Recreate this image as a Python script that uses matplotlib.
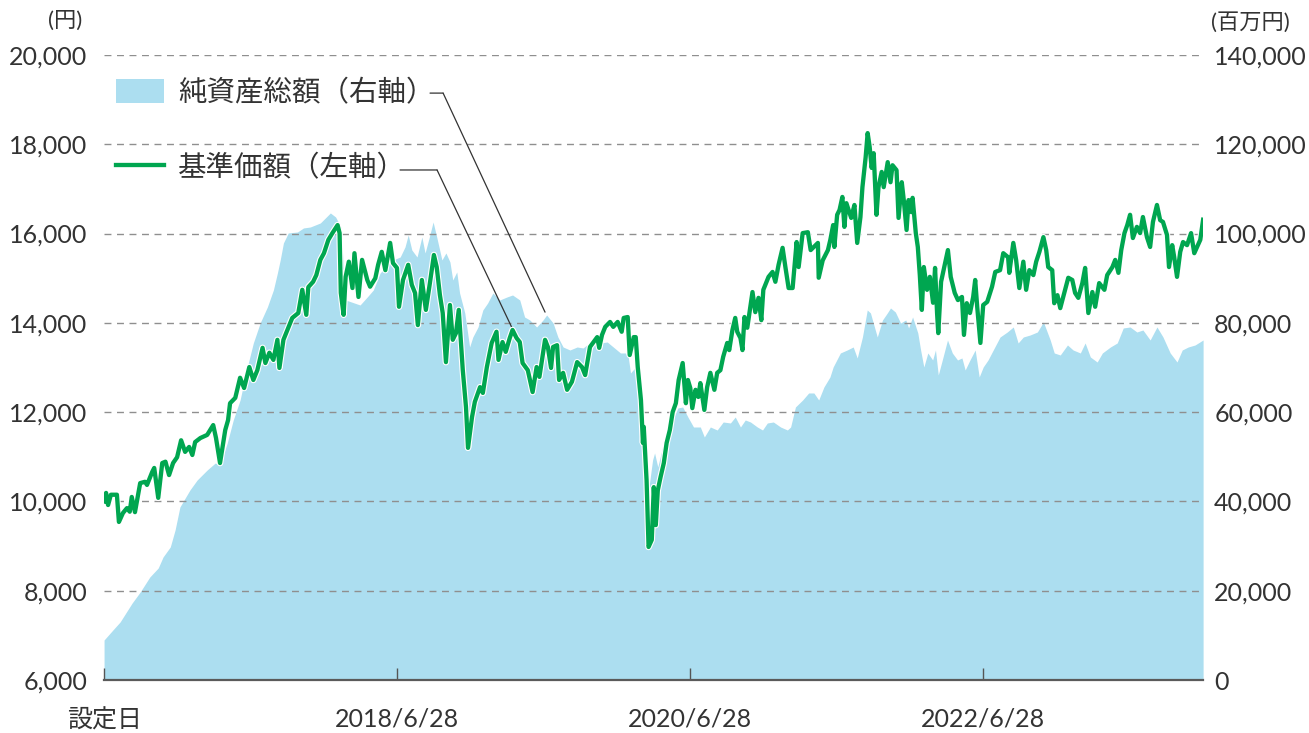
import pandas as pd
import matplotlib
matplotlib.use('Agg')
import matplotlib.pyplot as plt
import matplotlib.patheffects as pe
import matplotlib.dates as mdates
from matplotlib.patches import Patch, ConnectionPatch
from matplotlib.lines import Line2D
from matplotlib.ticker import FuncFormatter

plt.rcParams['font.family'] = ['Lato', 'Noto Sans CJK JP', 'DejaVu Sans']

# 基準価額（左軸, 円）
nav_dates = [
    '2016-06-28', '2016-07-03', '2016-07-08', '2016-07-15', '2016-07-30', '2016-08-04', '2016-08-14',
    '2016-08-24', '2016-08-31', '2016-09-05', '2016-09-13', '2016-09-26', '2016-10-08', '2016-10-13',
    '2016-10-26', '2016-10-31', '2016-11-10', '2016-11-20', '2016-11-28', '2016-12-07', '2016-12-17',
    '2016-12-27', '2017-01-06', '2017-01-16', '2017-01-26', '2017-02-03', '2017-02-10', '2017-02-23',
    '2017-03-12', '2017-03-27', '2017-04-03', '2017-04-13', '2017-04-26', '2017-05-03', '2017-05-08',
    '2017-05-21', '2017-06-02', '2017-06-12', '2017-06-25', '2017-07-05', '2017-07-15', '2017-07-28',
    '2017-08-04', '2017-08-14', '2017-08-24', '2017-09-03', '2017-09-08', '2017-09-18', '2017-09-28',
    '2017-10-10', '2017-10-25', '2017-11-04', '2017-11-14', '2017-11-19', '2017-12-01', '2017-12-09',
    '2017-12-19', '2017-12-28', '2018-01-08', '2018-01-18', '2018-01-26', '2018-01-31', '2018-02-05',
    '2018-02-08', '2018-02-15', '2018-02-20', '2018-02-28', '2018-03-09', '2018-03-14', '2018-03-24',
    '2018-04-02', '2018-04-15', '2018-04-22', '2018-05-05', '2018-05-12', '2018-05-21', '2018-05-30',
    '2018-06-11', '2018-06-18', '2018-06-28', '2018-07-03', '2018-07-13', '2018-07-26', '2018-08-04',
    '2018-08-12', '2018-08-19', '2018-08-29', '2018-09-08', '2018-09-18', '2018-09-28', '2018-10-05',
    '2018-10-13', '2018-10-20', '2018-10-28', '2018-11-07', '2018-11-14', '2018-11-22', '2018-11-29',
    '2018-12-09', '2018-12-17', '2018-12-22', '2019-01-01', '2019-01-08', '2019-01-21', '2019-01-28',
    '2019-02-07', '2019-02-19', '2019-03-03', '2019-03-08', '2019-03-18', '2019-03-26', '2019-04-05',
    '2019-04-12', '2019-04-22', '2019-04-30', '2019-05-07', '2019-05-20', '2019-06-01', '2019-06-11',
    '2019-06-18', '2019-07-02', '2019-07-09', '2019-07-17', '2019-07-22', '2019-08-01', '2019-08-06',
    '2019-08-16', '2019-08-26', '2019-09-07', '2019-09-20', '2019-10-02', '2019-10-10', '2019-10-22',
    '2019-11-09', '2019-11-14', '2019-11-21', '2019-11-29', '2019-12-11', '2019-12-19', '2019-12-30',
    '2020-01-09', '2020-01-14', '2020-01-24', '2020-01-29', '2020-02-08', '2020-02-13', '2020-02-18',
    '2020-02-26', '2020-03-02', '2020-03-04', '2020-03-11', '2020-03-16', '2020-03-24', '2020-03-29',
    '2020-04-03', '2020-04-08', '2020-04-15', '2020-04-23', '2020-04-30', '2020-05-08', '2020-05-15',
    '2020-05-23', '2020-05-30', '2020-06-09', '2020-06-17', '2020-06-22', '2020-06-28', '2020-07-03',
    '2020-07-11', '2020-07-18', '2020-07-23', '2020-08-02', '2020-08-09', '2020-08-17', '2020-08-27',
    '2020-09-03', '2020-09-11', '2020-09-18', '2020-09-28', '2020-10-03', '2020-10-11', '2020-10-18',
    '2020-10-23', '2020-10-31', '2020-11-05', '2020-11-10', '2020-11-17', '2020-11-30', '2020-12-07',
    '2020-12-15', '2020-12-22', '2020-12-27', '2021-01-09', '2021-01-19', '2021-01-26', '2021-02-03',
    '2021-02-13', '2021-02-20', '2021-02-28', '2021-03-10', '2021-03-20', '2021-03-25', '2021-04-04',
    '2021-04-17', '2021-04-24', '2021-05-02', '2021-05-12', '2021-05-14', '2021-05-24', '2021-06-06',
    '2021-06-12', '2021-06-19', '2021-06-22', '2021-06-29', '2021-07-05', '2021-07-12', '2021-07-17',
    '2021-07-22', '2021-08-03', '2021-08-11', '2021-08-18', '2021-08-26', '2021-08-31', '2021-09-08',
    '2021-09-13', '2021-09-18', '2021-09-23', '2021-09-28', '2021-10-05', '2021-10-10', '2021-10-18',
    '2021-10-23', '2021-11-02', '2021-11-09', '2021-11-14', '2021-11-24', '2021-11-29', '2021-12-07',
    '2021-12-12', '2021-12-19', '2021-12-24', '2021-12-31', '2022-01-03', '2022-01-11', '2022-01-16',
    '2022-01-21', '2022-01-26', '2022-01-31', '2022-02-08', '2022-02-15', '2022-02-23', '2022-02-28',
    '2022-03-05', '2022-03-08', '2022-03-15', '2022-03-25', '2022-04-01', '2022-04-08', '2022-04-18',
    '2022-04-26', '2022-05-06', '2022-05-11', '2022-05-18', '2022-05-26', '2022-06-03', '2022-06-08',
    '2022-06-13', '2022-06-21', '2022-06-28', '2022-07-08', '2022-07-20', '2022-07-28', '2022-08-09',
    '2022-08-17', '2022-08-29', '2022-09-01', '2022-09-11', '2022-09-18', '2022-09-26', '2022-10-06',
    '2022-10-13', '2022-10-21', '2022-10-31', '2022-11-07', '2022-11-15', '2022-11-25', '2022-12-02',
    '2022-12-07', '2022-12-17', '2022-12-22', '2022-12-30', '2023-01-06', '2023-01-16', '2023-01-26',
    '2023-02-05', '2023-02-12', '2023-02-20', '2023-03-02', '2023-03-09', '2023-03-17', '2023-03-27',
    '2023-04-03', '2023-04-13', '2023-04-26', '2023-05-03', '2023-05-16', '2023-05-23', '2023-05-31',
    '2023-06-07', '2023-06-15', '2023-06-22', '2023-06-29', '2023-07-06', '2023-07-16', '2023-07-24',
    '2023-07-31', '2023-08-10', '2023-08-18', '2023-08-25', '2023-09-04', '2023-09-12', '2023-09-19',
    '2023-09-29', '2023-10-04', '2023-10-12', '2023-10-17', '2023-10-24', '2023-11-01', '2023-11-08',
    '2023-11-18', '2023-11-28', '2023-12-06', '2023-12-13', '2023-12-21', '2023-12-28',
]
nav_values = [
    10000, 10190, 9920, 10150, 10150, 9540, 9740,
    9850, 9770, 10100, 9760, 10410, 10440, 10370,
    10660, 10750, 10080, 10860, 10890, 10590, 10860,
    10990, 11370, 11110, 11220, 11040, 11330, 11420,
    11490, 11710, 11420, 10860, 11600, 11820, 12200,
    12320, 12770, 12540, 13010, 12720, 12940, 13440,
    13100, 13330, 13170, 13620, 12990, 13620, 13840,
    14110, 14220, 14740, 14180, 14800, 14920, 15070,
    15410, 15560, 15860, 16010, 16120, 16190, 16010,
    14670, 14180, 15030, 15370, 14780, 15560, 14580,
    15410, 14960, 14810, 15000, 15300, 15590, 15180,
    15790, 15340, 15230, 14360, 14960, 15300, 14850,
    14670, 13950, 14960, 14290, 14890, 15520, 15250,
    14620, 14220, 13120, 14400, 13620, 13770, 14290,
    12940, 12110, 11200, 11890, 12230, 12560, 12430,
    13010, 13550, 13800, 13170, 13570, 13350, 13660,
    13840, 13660, 13570, 13100, 12940, 12450, 13010,
    12790, 13620, 13460, 12990, 13460, 13500, 12720,
    12880, 12500, 12680, 13120, 13010, 12830, 13460,
    13680, 13440, 13730, 13910, 14020, 13910, 14020,
    13800, 14110, 14130, 13280, 13680, 13680, 13010,
    12270, 11310, 11670, 10480, 8980, 9140, 10320,
    9470, 10250, 10550, 10860, 11310, 11600, 12000,
    12200, 12720, 13100, 12200, 12720, 12540, 12090,
    12500, 12340, 12650, 12050, 12560, 12880, 12500,
    12880, 12940, 13240, 13550, 13390, 13840, 14110,
    13800, 13660, 13390, 14130, 13890, 14690, 14240,
    14560, 14060, 14740, 15030, 15140, 14920, 15300,
    15680, 15250, 14780, 14780, 15810, 15250, 16010,
    16030, 15630, 15700, 15790, 15010, 15400, 15630,
    15860, 16190, 15700, 16420, 16530, 16820, 16150,
    16680, 16350, 16640, 15790, 16370, 17040, 17710,
    18250, 17940, 17470, 17800, 16420, 17040, 17380,
    17040, 17600, 17150, 17530, 17420, 16350, 17150,
    16750, 16080, 16750, 16480, 16800, 16010, 15700,
    15070, 14290, 15250, 14740, 15030, 14450, 15230,
    14220, 13770, 14920, 15340, 15630, 15030, 14670,
    14510, 14580, 13730, 14440, 14220, 14580, 14960,
    14360, 13550, 14400, 14470, 14810, 15140, 15180,
    15560, 15470, 15120, 15790, 15410, 14780, 15370,
    14740, 15180, 15070, 15370, 15590, 15920, 15630,
    15250, 15180, 14440, 14620, 14330, 14670, 15010,
    14960, 14670, 14560, 14890, 15230, 14220, 14690,
    14360, 14890, 14740, 15070, 15250, 15410, 15120,
    15630, 16010, 16190, 16420, 15900, 16150, 16010,
    16370, 15920, 15700, 16260, 16640, 16300, 16260,
    15970, 15250, 15740, 15470, 15030, 15590, 15810,
    15740, 16010, 15560, 15700, 15860, 16310,
]

# 純資産総額（右軸, 百万円）
aum_dates = [
    '2016-06-28', '2016-07-20', '2016-08-07', '2016-09-06', '2016-09-26', '2016-10-20', '2016-11-10',
    '2016-11-22', '2016-12-10', '2016-12-22', '2017-01-03', '2017-01-28', '2017-02-15', '2017-03-12',
    '2017-04-01', '2017-04-13', '2017-05-01', '2017-05-16', '2017-06-02', '2017-06-20', '2017-07-05',
    '2017-07-22', '2017-08-09', '2017-08-24', '2017-09-03', '2017-09-10', '2017-09-18', '2017-09-30',
    '2017-10-23', '2017-11-07', '2017-11-24', '2017-12-19', '2018-01-13', '2018-01-26', '2018-02-08',
    '2018-02-20', '2018-03-28', '2018-04-15', '2018-04-30', '2018-05-17', '2018-06-04', '2018-06-18',
    '2018-07-06', '2018-07-18', '2018-07-26', '2018-08-04', '2018-08-17', '2018-08-29', '2018-09-06',
    '2018-09-16', '2018-09-26', '2018-10-05', '2018-10-18', '2018-10-28', '2018-11-07', '2018-11-14',
    '2018-11-24', '2018-12-01', '2018-12-14', '2018-12-26', '2019-01-03', '2019-01-16', '2019-01-28',
    '2019-02-09', '2019-02-22', '2019-03-11', '2019-03-29', '2019-04-12', '2019-04-30', '2019-05-12',
    '2019-05-25', '2019-06-11', '2019-06-27', '2019-07-06', '2019-07-22', '2019-08-03', '2019-08-16',
    '2019-09-02', '2019-09-20', '2019-10-05', '2019-10-20', '2019-11-16', '2019-12-04', '2019-12-19',
    '2020-01-06', '2020-01-24', '2020-01-31', '2020-02-13', '2020-02-21', '2020-03-02', '2020-03-09',
    '2020-03-16', '2020-03-26', '2020-03-31', '2020-04-08', '2020-04-20', '2020-05-03', '2020-05-15',
    '2020-05-28', '2020-06-09', '2020-06-22', '2020-07-06', '2020-07-23', '2020-08-02', '2020-08-17',
    '2020-09-03', '2020-09-18', '2020-10-06', '2020-10-18', '2020-10-31', '2020-11-12', '2020-11-25',
    '2020-12-12', '2020-12-25', '2021-01-06', '2021-01-21', '2021-02-08', '2021-02-25', '2021-03-05',
    '2021-03-17', '2021-04-04', '2021-04-19', '2021-05-02', '2021-05-14', '2021-05-27', '2021-06-11',
    '2021-06-19', '2021-07-07', '2021-07-24', '2021-08-08', '2021-08-18', '2021-08-31', '2021-09-12',
    '2021-09-20', '2021-09-27', '2021-10-07', '2021-10-20', '2021-11-01', '2021-11-09', '2021-11-21',
    '2021-12-04', '2021-12-17', '2021-12-24', '2022-01-03', '2022-01-16', '2022-01-23', '2022-01-31',
    '2022-02-10', '2022-02-22', '2022-03-01', '2022-03-08', '2022-03-18', '2022-03-31', '2022-04-12',
    '2022-04-25', '2022-05-06', '2022-05-14', '2022-05-26', '2022-06-08', '2022-06-18', '2022-06-28',
    '2022-07-10', '2022-07-23', '2022-08-09', '2022-08-27', '2022-09-11', '2022-09-23', '2022-10-06',
    '2022-10-23', '2022-11-10', '2022-11-25', '2022-12-12', '2022-12-22', '2023-01-06', '2023-01-24',
    '2023-02-07', '2023-02-25', '2023-03-09', '2023-03-22', '2023-04-08', '2023-04-21', '2023-05-11',
    '2023-05-28', '2023-06-12', '2023-06-29', '2023-07-16', '2023-07-31', '2023-08-18', '2023-09-04',
    '2023-09-19', '2023-10-07', '2023-10-24', '2023-11-06', '2023-11-21', '2023-12-08', '2023-12-28',
]
aum_values = [
    8960, 11200, 13000, 17250, 19700, 23070, 25090,
    27550, 29800, 33600, 38750, 42560, 44800, 47040,
    48600, 48160, 53090, 58240, 62720, 70100, 75490,
    79970, 83550, 87360, 91170, 94080, 97890, 100130,
    100350, 101250, 101470, 102370, 104610, 103710, 101470,
    85120, 84000, 85800, 87360, 91170, 92960, 94080,
    94750, 97000, 99680, 96320, 94750, 99230, 95650,
    99010, 102590, 99230, 94080, 95650, 93630, 89600,
    91390, 86690, 82210, 74590, 76830, 79070, 82880,
    84450, 86690, 85120, 85790, 86240, 85120, 81310,
    80640, 79070, 80640, 81760, 79970, 76830, 74590,
    73920, 74590, 74370, 75490, 75490, 75710, 74590,
    73250, 73250, 68770, 70110, 65630, 58240, 49280,
    42560, 49280, 50850, 47710, 52190, 53760, 58240,
    60930, 61150, 58910, 56670, 56670, 54430, 56670,
    56000, 57790, 57570, 58910, 56670, 58240, 57790,
    56670, 56000, 57570, 57790, 56670, 56000, 56670,
    61150, 62720, 64290, 64290, 62720, 65630, 67870,
    70110, 73250, 73920, 74590, 72130, 76830, 82880,
    82210, 79970, 76830, 80640, 82210, 83330, 82430,
    79970, 80640, 78850, 81310, 77730, 73920, 70110,
    73250, 71680, 73920, 68320, 71680, 76160, 73250,
    71680, 72130, 69440, 71680, 73920, 67870, 70110,
    71680, 73920, 76830, 77950, 79070, 75490, 76830,
    77280, 77950, 80190, 76160, 73250, 72800, 75040,
    73920, 73250, 75490, 72350, 71230, 73250, 74590,
    75490, 78850, 79070, 77950, 78400, 76160, 79070,
    76830, 73250, 71230, 73920, 74590, 75040, 76160,
]

tick_dates = ['2016-06-28', '2018-06-28', '2020-06-28', '2022-06-28']
tick_labels = ['設定日', '2018/6/28', '2020/6/28', '2022/6/28']

nav_x = pd.to_datetime(nav_dates)
aum_x = pd.to_datetime(aum_dates)

green = '#00a650'
blue = '#acdef0'
txt = '#333333'

fig = plt.figure(figsize=(13.09, 7.33), dpi=100)
ax = fig.add_axes([0.0795, 0.0723, 0.8396, 0.8527])
ax2 = ax.twinx()

# 純資産総額 (塗りつぶし)
ax2.fill_between(aum_x, aum_values, 0, color=blue, linewidth=0)
ax2.set_ylim(0, 140000)
ax2.set_yticks(range(0, 140001, 20000))

# 基準価額 (線) は前面
ax.set_zorder(ax2.get_zorder() + 1)
ax.patch.set_visible(False)
ax.plot(nav_x, nav_values, color=green, lw=3.1, solid_joinstyle='round', zorder=3,
        path_effects=[pe.Stroke(linewidth=4.7, foreground='white'), pe.Normal()])
ax.set_ylim(6000, 20000)
ax.set_yticks(range(6000, 20001, 2000))
ax.set_xlim(pd.Timestamp('2016-06-28'), pd.Timestamp('2023-12-28'))

ax.set_axisbelow(True)
ax.yaxis.grid(True, color='#8f8f8f', linestyle=(0, (5, 4)), linewidth=1.0)

fmt = FuncFormatter(lambda v, p: f'{int(v):,}')
ax.yaxis.set_major_formatter(fmt)
ax2.yaxis.set_major_formatter(fmt)

ax.set_xticks(pd.to_datetime(tick_dates))
ax.set_xticklabels(tick_labels)
ax.tick_params(axis='x', direction='in', length=9, width=1.0, color='#555555',
               labelsize=18, labelcolor=txt, pad=20)
ax.tick_params(axis='y', length=0, labelsize=18, labelcolor=txt, pad=12)
ax2.tick_params(axis='y', length=0, labelsize=18, labelcolor=txt, pad=8)

for a in (ax, ax2):
    for s in ['top', 'left', 'right', 'bottom']:
        a.spines[s].set_visible(False)
ax.spines['bottom'].set_visible(True)
ax.spines['bottom'].set_color('#5a5a5a')
ax.spines['bottom'].set_linewidth(1.6)

fig.text(0.050, 0.972, '(円)', fontsize=16, color=txt, ha='center', va='center')
fig.text(0.955, 0.969, '(百万円)', fontsize=16, color=txt, ha='center', va='center')

# 凡例
handles = [Patch(facecolor=blue, edgecolor='none'),
           Line2D([0], [0], color=green, lw=3.1)]
labels = ['純資産総額（右軸）', '基準価額（左軸）']
leg = ax.legend(handles, labels, loc='upper left', bbox_to_anchor=(0.011, 0.962),
                frameon=False, fontsize=20.5, handlelength=1.68, handleheight=0.95,
                handletextpad=0.5, labelspacing=1.7, borderpad=0, borderaxespad=0)
for t in leg.get_texts():
    t.set_color(txt)

# 引き出し線
lc = '#333333'
ax.add_artist(ConnectionPatch(xyA=(0.2966, 0.939), coordsA='axes fraction',
                              xyB=(0.3085, 0.939), coordsB='axes fraction', color=lc, lw=0.9))
ax.add_artist(ConnectionPatch(xyA=(0.3085, 0.939), coordsA='axes fraction',
                              xyB=(mdates.date2num(pd.Timestamp('2019-07-02')), 82400),
                              coordsB=ax2.transData, color=lc, lw=0.9))
ax.add_artist(ConnectionPatch(xyA=(0.2693, 0.816), coordsA='axes fraction',
                              xyB=(0.3030, 0.816), coordsB='axes fraction', color=lc, lw=0.9))
ax.add_artist(ConnectionPatch(xyA=(0.3030, 0.816), coordsA='axes fraction',
                              xyB=(mdates.date2num(pd.Timestamp('2019-04-10')), 13900),
                              coordsB=ax.transData, color=lc, lw=0.9))

fig.savefig('out.png', dpi=100)
